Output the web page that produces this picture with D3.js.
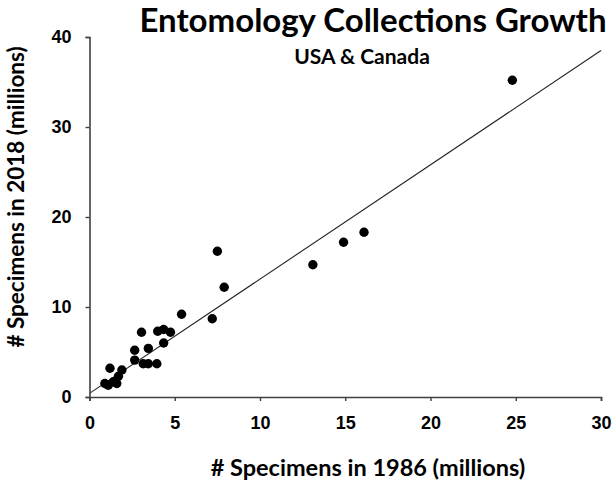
<!DOCTYPE html>
<html>
<head>
<meta charset="utf-8">
<script src="https://cdn.jsdelivr.net/npm/d3@7"></script>
<style>
  html, body { margin: 0; padding: 0; background: #fff; }
  svg { display: block; }
</style>
</head>
<body>
<svg id="chart" width="616" height="486"></svg>
<script>
// ---- data ----
const specimens1986 = [24.8, 16.1, 14.9, 13.1, 7.5, 7.9, 5.4, 7.2,
  3.05, 4.0, 4.35, 4.75, 4.35, 3.45, 2.65, 2.65, 3.15, 3.45, 3.95,
  1.2, 1.9, 1.7, 1.4, 0.9, 1.1, 1.6];
const specimens2018 = [35.2, 18.3, 17.2, 14.7, 16.2, 12.2, 9.2, 8.7,
  7.2, 7.3, 7.5, 7.2, 6.0, 5.4, 5.2, 4.1, 3.7, 3.7, 3.7,
  3.2, 3.0, 2.3, 1.7, 1.5, 1.3, 1.5];
const xTicks = [0, 5, 10, 15, 20, 25, 30];
const yTicks = [0, 10, 20, 30, 40];
const trendX = [0, 30];
const trendIntercept = 0.4;
const trendSlope = 1.27;
const titleText = "Entomology Collections Growth";
const subtitleText = "USA & Canada";
const xTitle = "# Specimens in 1986 (millions)";
const yTitle = "# Specimens in 2018 (millions)";

// ---- layout ----
const svg = d3.select("#chart");
const x = d3.scaleLinear().domain([0, 30]).range([89.5, 601]);
const y = d3.scaleLinear().domain([0, 40]).range([397, 37]);

const calibri = "Lato, 'Open Sans', sans-serif";
const arial = "'Liberation Sans', Arial, sans-serif";

// trend line
svg.append("line")
  .attr("x1", x(trendX[0])).attr("y1", y(trendIntercept + trendSlope * trendX[0]))
  .attr("x2", x(trendX[1])).attr("y2", y(trendIntercept + trendSlope * trendX[1]))
  .attr("stroke", "#222").attr("stroke-width", 1.1);

// points
svg.append("g").selectAll("circle")
  .data(specimens1986.map((v, i) => [v, specimens2018[i]]))
  .join("circle")
  .attr("cx", d => x(d[0]))
  .attr("cy", d => y(d[1]))
  .attr("r", 4.7)
  .attr("fill", "#000");

// axes
const xAxis = svg.append("g")
  .attr("transform", `translate(0,${y(0)})`)
  .call(d3.axisBottom(x).tickValues(xTicks).tickSize(4).tickSizeOuter(4).tickPadding(15));
const yAxis = svg.append("g")
  .attr("transform", `translate(${x(0)},0)`)
  .call(d3.axisLeft(y).tickValues(yTicks).tickSize(4).tickSizeOuter(4).tickPadding(14));

[xAxis, yAxis].forEach(g => {
  g.select(".domain").attr("stroke", "#404040").attr("stroke-width", 1.6);
  g.selectAll(".tick line").attr("stroke", "#404040").attr("stroke-width", 1.4);
  g.selectAll(".tick text")
    .attr("font-family", arial).attr("font-weight", "bold")
    .attr("font-size", 18).attr("fill", "#000");
});

// titles
svg.append("text")
  .attr("x", 373).attr("y", 32)
  .attr("text-anchor", "middle")
  .attr("font-family", calibri).attr("font-weight", "bold")
  .attr("font-size", 33).attr("fill", "#000")
  .text(titleText);

svg.append("text")
  .attr("x", 362).attr("y", 64)
  .attr("text-anchor", "middle")
  .attr("font-family", calibri).attr("font-weight", "bold")
  .attr("font-size", 21).attr("fill", "#000")
  .text(subtitleText);

svg.append("text")
  .attr("x", 368).attr("y", 476)
  .attr("text-anchor", "middle")
  .attr("font-family", calibri).attr("font-weight", "bold")
  .attr("font-size", 23.5).attr("fill", "#000")
  .text(xTitle);

svg.append("text")
  .attr("transform", "translate(24,197) rotate(-90)")
  .attr("text-anchor", "middle")
  .attr("font-family", calibri).attr("font-weight", "bold")
  .attr("font-size", 22.5).attr("fill", "#000")
  .text(yTitle);
</script>
</body>
</html>
